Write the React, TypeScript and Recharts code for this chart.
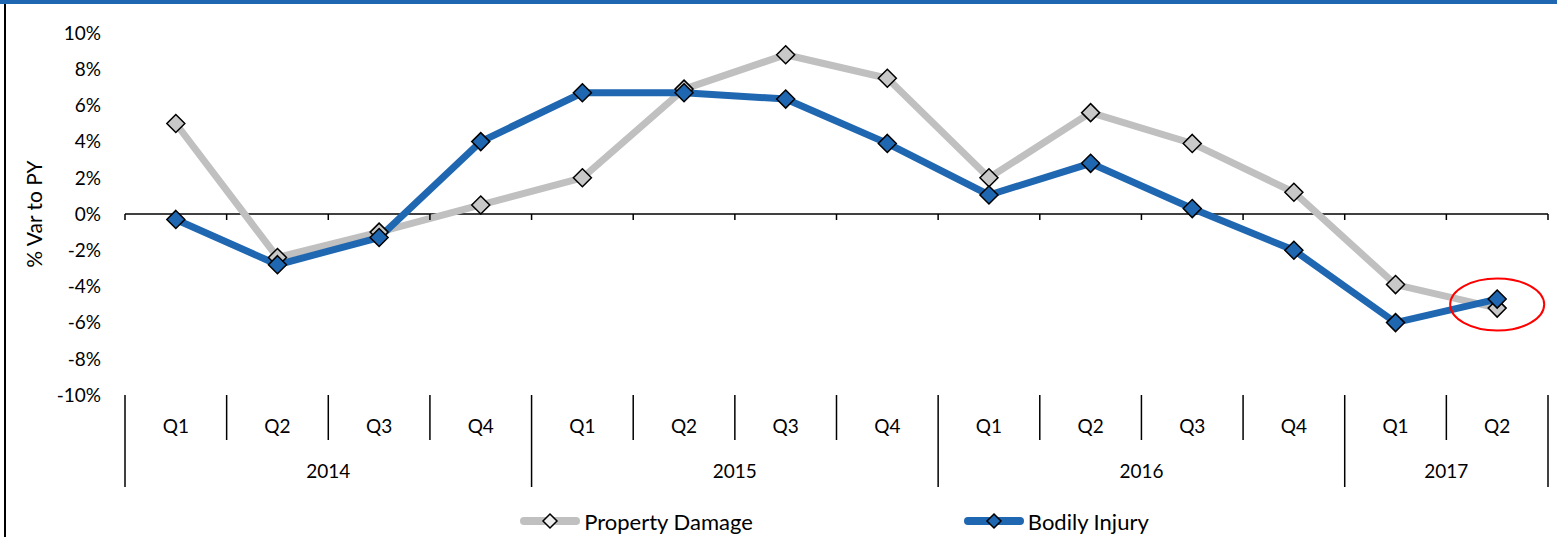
import React from 'react';
import { LineChart, Line, XAxis, YAxis, ReferenceLine, ReferenceDot, Legend } from 'recharts';

const quarters = ['Q1', 'Q2', 'Q3', 'Q4', 'Q1', 'Q2', 'Q3', 'Q4', 'Q1', 'Q2', 'Q3', 'Q4', 'Q1', 'Q2'];
const years = ['2014', '2014', '2014', '2014', '2015', '2015', '2015', '2015', '2016', '2016', '2016', '2016', '2017', '2017'];
const propertyDamage = [5.0, -2.4, -1.0, 0.5, 2.0, 6.9, 8.8, 7.5, 2.0, 5.6, 3.9, 1.2, -3.9, -5.2];
const bodilyInjury = [-0.3, -2.8, -1.3, 4.0, 6.7, 6.7, 6.35, 3.9, 1.05, 2.8, 0.3, -2.0, -6.0, -4.7];
const yTicks = [-10, -8, -6, -4, -2, 0, 2, 4, 6, 8, 10];

const data = quarters.map((q, i) => ({
  key: `${years[i]} ${q}`,
  quarter: q,
  year: years[i],
  pd: propertyDamage[i],
  bi: bodilyInjury[i],
}));

const W = 1557;
const H = 537;
const M = { top: 33, right: 9, left: 20, bottom: 0 };
const Y_W = 105;
const PLOT_W = W - M.left - Y_W - M.right;
const PLOT_H = 362;
const BAND = PLOT_W / data.length;

const BLUE = '#1f67b1';
const GRAY = '#c0c0c0';
const FONT = 19;

const Diamond = ({ cx, cy, fill, size = 9 }: any) => (
  <polygon
    points={`${cx},${cy - size} ${cx + size},${cy} ${cx},${cy + size} ${cx - size},${cy}`}
    fill={fill}
    stroke="#000"
    strokeWidth={1.5}
  />
);

const CategoryTick = (props: any) => {
  const { x, y, index } = props;
  const d = data[index];
  const half = BAND / 2;
  const left = x - half;
  const firstOfYear = index === 0 || data[index - 1].year !== d.year;
  const last = index === data.length - 1;
  const count = data.filter((e) => e.year === d.year).length;
  const zeroY = y - PLOT_H / 2;
  return (
    <g>
      <line x1={left} y1={y} x2={left} y2={y + (firstOfYear ? 92 : 45)} stroke="#000" strokeWidth={1.5} />
      {last && <line x1={x + half} y1={y} x2={x + half} y2={y + 92} stroke="#000" strokeWidth={1.5} />}
      <line x1={left} y1={zeroY} x2={left} y2={zeroY + 6} stroke="#000" strokeWidth={1.5} />
      {last && <line x1={x + half} y1={zeroY} x2={x + half} y2={zeroY + 6} stroke="#000" strokeWidth={1.5} />}
      <text x={x} y={y + 30} textAnchor="middle" dominantBaseline="central" fontSize={FONT} fill="#000">
        {d.quarter}
      </text>
      {firstOfYear && (
        <text x={left + (count * BAND) / 2} y={y + 75} textAnchor="middle" dominantBaseline="central" fontSize={FONT} fill="#000">
          {d.year}
        </text>
      )}
    </g>
  );
};

const LegendIcon = ({ color, fill }: { color: string; fill: string }) => (
  <svg width={62} height={20} style={{ display: 'block' }}>
    <line x1={5} y1={10} x2={57} y2={10} stroke={color} strokeWidth={8} strokeLinecap="round" />
    <Diamond cx={31} cy={10} size={7} fill={fill} />
  </svg>
);

const renderLegend = () => (
  <div style={{ height: 32, display: 'flex', alignItems: 'center', justifyContent: 'center', paddingLeft: 100, fontSize: 22 }}>
    <div style={{ display: 'flex', alignItems: 'center', marginRight: 210 }}>
      <LegendIcon color={GRAY} fill="#eeeeee" />
      <span style={{ marginLeft: 3 }}>Property Damage</span>
    </div>
    <div style={{ display: 'flex', alignItems: 'center' }}>
      <LegendIcon color={BLUE} fill={BLUE} />
      <span style={{ marginLeft: 3 }}>Bodily Injury</span>
    </div>
  </div>
);

const YLabel = (props: any) => {
  const { viewBox } = props;
  const x = viewBox.x + 13;
  const y = viewBox.y + viewBox.height / 2;
  return (
    <text x={x} y={y} transform={`rotate(-90, ${x}, ${y})`} textAnchor="middle" dominantBaseline="central" fontSize={21} fill="#000">
      % Var to PY
    </text>
  );
};

export default function App() {
  return (
    <div style={{ position: 'absolute', left: 0, top: 0, width: W, height: H, fontFamily: 'Lato, sans-serif', background: '#fff' }}>
      <div style={{ position: 'absolute', left: 0, top: 0, width: W, height: 4, background: BLUE }} />
      <div style={{ position: 'absolute', left: 4, top: 4, width: 2, height: H - 4, background: '#000' }} />
      <div style={{ position: 'absolute', left: 0, top: 0 }}>
        <LineChart width={W} height={H} data={data} margin={M}>
          <XAxis
            dataKey="key"
            interval={0}
            axisLine={false}
            tickLine={false}
            tickSize={0}
            tickMargin={0}
            height={110}
            padding={{ left: BAND / 2, right: BAND / 2 }}
            tick={<CategoryTick />}
          />
          <YAxis
            domain={[-10, 10]}
            ticks={yTicks}
            width={Y_W}
            axisLine={false}
            tickLine={false}
            tickMargin={18}
            tickFormatter={(v: number) => `${v}%`}
            tick={{ fill: '#000', fontSize: FONT }}
            label={{ content: <YLabel /> }}
          />
          <ReferenceLine y={0} stroke="#000" strokeWidth={1.5} />
          <Line
            dataKey="pd"
            stroke={GRAY}
            strokeWidth={7}
            isAnimationActive={false}
            activeDot={false}
            dot={(p: any) => <Diamond key={`pd-${p.index}`} cx={p.cx} cy={p.cy} fill="#c8c8c8" />}
          />
          <Line
            dataKey="bi"
            stroke={BLUE}
            strokeWidth={7}
            isAnimationActive={false}
            activeDot={false}
            dot={(p: any) => <Diamond key={`bi-${p.index}`} cx={p.cx} cy={p.cy} fill={BLUE} />}
          />
          <ReferenceDot
            x="2017 Q2"
            y={-5.0}
            shape={(p: any) => <ellipse cx={p.cx} cy={p.cy} rx={47} ry={26} fill="none" stroke="#ff0000" strokeWidth={2} />}
          />
          <Legend verticalAlign="bottom" content={renderLegend} />
        </LineChart>
      </div>
    </div>
  );
}
